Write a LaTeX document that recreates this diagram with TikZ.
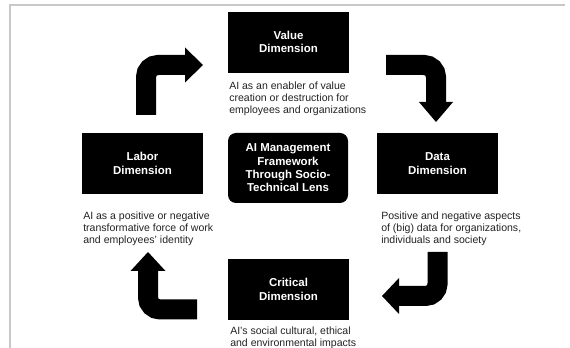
\documentclass[tikz,border=0pt]{standalone}
\usepackage{fontspec}
\setmainfont{Liberation Sans}
\definecolor{framegrey}{HTML}{C8C8C8}
\definecolor{desctext}{HTML}{222222}
\begin{document}
\begin{tikzpicture}[x=0.75pt,y=-0.75pt,
  dimbox/.style={fill=black, text=white, inner sep=0pt,
    minimum width=90.75pt, minimum height=45.75pt, align=center,
    font=\bfseries\fontsize{8.6}{10}\selectfont},
  corebox/.style={dimbox, rounded corners=6pt,
    minimum width=90pt, minimum height=52.5pt},
  desc/.style={anchor=north west, inner sep=0pt, align=left, text=desctext,
    font=\fontsize{7.9}{9}\selectfont},
  blockarrow/.style={draw=black, line width=15pt, rounded corners=9pt},
  arrowhead/.style={fill=black}]
\useasboundingbox (0,0) rectangle (570,348);

% page frame
\draw[framegrey, line width=1.2pt] (10,348) -- (10,5) -- (565,5);

% dimension boxes
\node[dimbox] (value)    at (288.5,42.2)  {Value\\Dimension};
\node[dimbox] (labor)    at (142.5,163.5) {Labor\\Dimension};
\node[dimbox] (data)     at (437.5,163.5) {Data\\Dimension};
\node[dimbox] (critical) at (288.5,289.5) {Critical\\Dimension};
\node[corebox] (core)    at (288,168)     {AI Management\\Framework\\Through Socio-\\Technical Lens};

% descriptions
\node[desc] (valuedesc) at (229,81.5)
  {AI as an enabler of value\\creation or destruction for\\employees and organizations};
\node[desc] (labordesc) at (83,211.5)
  {AI as a positive or negative\\transformative force of work\\and employees' identity};
\node[desc] (datadesc) at (381,211.5)
  {Positive and negative aspects\\of (big) data for organizations,\\individuals and society};
\node[desc] (criticaldesc) at (230,326.5)
  {AI's social cultural, ethical\\and environmental impacts};

% block arrows: shaft start and shaft end (base of the head)
\coordinate (lv1) at (146,115);   \coordinate (lv2) at (185,65);
\coordinate (vd1) at (386,65);    \coordinate (vd2) at (436,102);
\coordinate (dc1) at (437.5,252); \coordinate (dc2) at (399,296);
\coordinate (cl1) at (197,309.5); \coordinate (cl2) at (148,271);

% labor -> value
\draw[blockarrow] (lv1) |- (lv2);
\fill[arrowhead] (lv2) ++(0,-17.5) -- ++(18,17.5) -- ++(-18,17.5) -- cycle;
% value -> data
\draw[blockarrow] (vd1) -| (vd2);
\fill[arrowhead] (vd2) ++(-17,0) -- ++(17,20) -- ++(17,-20) -- cycle;
% data -> critical
\draw[blockarrow] (dc1) |- (dc2);
\fill[arrowhead] (dc2) ++(0,-18) -- ++(-17,18) -- ++(17,18) -- cycle;
% critical -> labor
\draw[blockarrow] (cl1) -| (cl2);
\fill[arrowhead] (cl2) ++(-17.5,0) -- ++(17.5,-19) -- ++(17.5,19) -- cycle;
\end{tikzpicture}
\end{document}
